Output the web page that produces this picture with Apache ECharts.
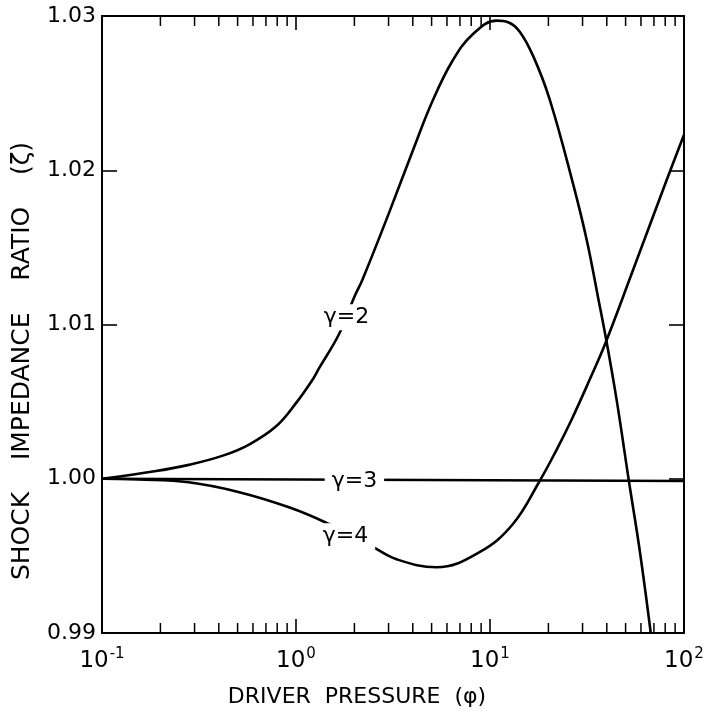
<!DOCTYPE html>
<html>
<head>
<meta charset="utf-8">
<script src="https://cdn.jsdelivr.net/npm/echarts@6/dist/echarts.min.js"></script>
<style>html,body{margin:0;padding:0;background:#fff}#c{width:714px;height:721px}</style>
</head>
<body>
<div id="c"></div>
<script>
// ---- data ----
const g2x = [0.1, 0.19, 0.28, 0.42, 0.57, 0.79, 1.0, 1.2, 1.32, 1.67, 2.0, 2.2, 3.03, 3.98, 5.06, 6.41, 8.13, 10.8, 12.4, 14.2, 16.7, 20.3, 26.7, 31.5, 36.0, 40.0, 45.1, 52.0, 59.2, 67.4];
const g2y = [1.0000, 1.0005, 1.0009, 1.0015, 1.0022, 1.0034, 1.0049, 1.0063, 1.0072, 1.0094, 1.0118, 1.0129, 1.0173, 1.0212, 1.0245, 1.0271, 1.0288, 1.0297, 1.0296, 1.0290, 1.0274, 1.0246, 1.0192, 1.0155, 1.0118, 1.0088, 1.0050, 0.99985, 0.9953, 0.9900];
const g3x = [0.1, 1, 10, 100];
const g3y = [1.0000, 0.99995, 0.9999, 0.99985];
const g4x = [0.1, 0.155, 0.28, 0.51, 0.92, 1.43, 2.45, 3.3, 5.3, 8.83, 13.1, 18.0, 22.1, 26.4, 32.7, 39.1, 54.5, 81.6, 100];
const g4y = [1.0000, 0.99995, 0.99977, 0.99913, 0.99815, 0.99715, 0.99563, 0.99478, 0.99426, 0.99524, 0.99705, 0.99984, 1.00191, 1.00386, 1.00645, 1.0087, 1.0135, 1.0194, 1.0223];
const curveNames = ['\u03b3=2', '\u03b3=3', '\u03b3=4'];
const labelX = [1.82, 2.0, 1.80];
const labelY = [1.01047, 0.99984, 0.99627];
const minorTickValues = [0.2,0.3,0.4,0.5,0.6,0.7,0.8,0.9, 2,3,4,5,6,7,8,9, 20,30,40,50,60,70,80,90];
const yMin = 0.99, yMax = 1.03, yStep = 0.01;
const xTitle = 'DRIVER  PRESSURE  (\u03c6)';
const yTitle = 'SHOCK    IMPEDANCE    RATIO    (\u03b6)';

const zip = (a, b) => a.map((v, i) => [v, b[i]]);
const FONT = '"DejaVu Sans", sans-serif';

const chart = echarts.init(document.getElementById('c'), null, {renderer: 'canvas'});
const axisLine = {show: true, onZero: false, lineStyle: {color: '#000', width: 2}};
const lineStyle = {color: '#000', width: 2.6};

const option = {
  animation: false,
  backgroundColor: '#fff',
  grid: {left: 102, right: 30, top: 16, bottom: 88, containLabel: false},
  xAxis: [{
    type: 'log', logBase: 10, min: 0.1, max: 100, position: 'bottom',
    axisLine: axisLine,
    axisTick: {show: true, inside: true, length: 14, lineStyle: {color: '#000', width: 1.6}},
    splitLine: {show: false},
    axisLabel: {
      margin: 14,
      formatter: v => '{b|10}{s|' + Math.round(Math.log10(v)) + '}',
      rich: {
        b: {fontSize: 23, fontFamily: FONT, color: '#000'},
        s: {fontSize: 15, fontFamily: FONT, color: '#000', padding: [0, 0, 14, 1]}
      }
    }
  }, {
    type: 'log', logBase: 10, min: 0.1, max: 100, position: 'top',
    axisLine: axisLine,
    axisTick: {show: true, inside: true, length: 14, lineStyle: {color: '#000', width: 1.6}},
    axisLabel: {show: false}, splitLine: {show: false}
  }],
  yAxis: [{
    type: 'value', min: yMin, max: yMax, interval: yStep, position: 'left',
    axisLine: axisLine,
    axisTick: {show: true, inside: true, length: 15, lineStyle: {color: '#000', width: 1.6}},
    splitLine: {show: false},
    axisLabel: {margin: 6, fontSize: 22, fontFamily: FONT, color: '#000', formatter: v => v.toFixed(2)}
  }, {
    type: 'value', min: yMin, max: yMax, interval: yStep, position: 'right',
    axisLine: axisLine,
    axisTick: {show: true, inside: true, length: 15, lineStyle: {color: '#000', width: 1.6}},
    axisLabel: {show: false}, splitLine: {show: false}
  }],
  graphic: [
    {type: 'text', x: 357, y: 697,
     style: {text: xTitle, font: '22px ' + FONT, fill: '#000', textAlign: 'center', textVerticalAlign: 'middle'}},
    {type: 'text', x: 22, y: 361, rotation: Math.PI / 2,
     style: {text: yTitle, font: '25px ' + FONT, fill: '#000', textAlign: 'center', textVerticalAlign: 'middle'}}
  ],
  series: [
    {type: 'line', data: zip(g2x, g2y), smooth: 0.4, showSymbol: false, symbol: 'none', lineStyle: lineStyle, clip: true, z: 2},
    {type: 'line', data: zip(g3x, g3y), smooth: false, showSymbol: false, symbol: 'none', lineStyle: lineStyle, clip: true, z: 2},
    {type: 'line', data: zip(g4x, g4y), smooth: 0.4, showSymbol: false, symbol: 'none', lineStyle: lineStyle, clip: true, z: 2},
    {
      type: 'scatter', symbolSize: 0, itemStyle: {color: '#fff', opacity: 1}, z: 5,
      data: labelX.map((x, i) => ({value: [x, labelY[i]], name: curveNames[i]})),
      label: {show: true, position: 'inside', formatter: p => p.name, fontSize: 22, fontFamily: FONT, color: '#000',
        opacity: 1, textBorderWidth: 0, backgroundColor: '#fff', padding: [2, 7]},
      emphasis: {disabled: true}
    },
    {
      type: 'custom', z: 3, clip: false,
      data: minorTickValues.map(v => [v, yMin]),
      renderItem: function (params, api) {
        const x = api.value(0);
        const pb = api.coord([x, yMin]);
        const pt = api.coord([x, yMax]);
        const st = {stroke: '#000', lineWidth: 1.5};
        return {type: 'group', children: [
          {type: 'line', shape: {x1: pb[0], y1: pb[1], x2: pb[0], y2: pb[1] - 10}, style: st},
          {type: 'line', shape: {x1: pt[0], y1: pt[1], x2: pt[0], y2: pt[1] + 10}, style: st}
        ]};
      }
    }
  ]
};
chart.setOption(option);
</script>
</body>
</html>
